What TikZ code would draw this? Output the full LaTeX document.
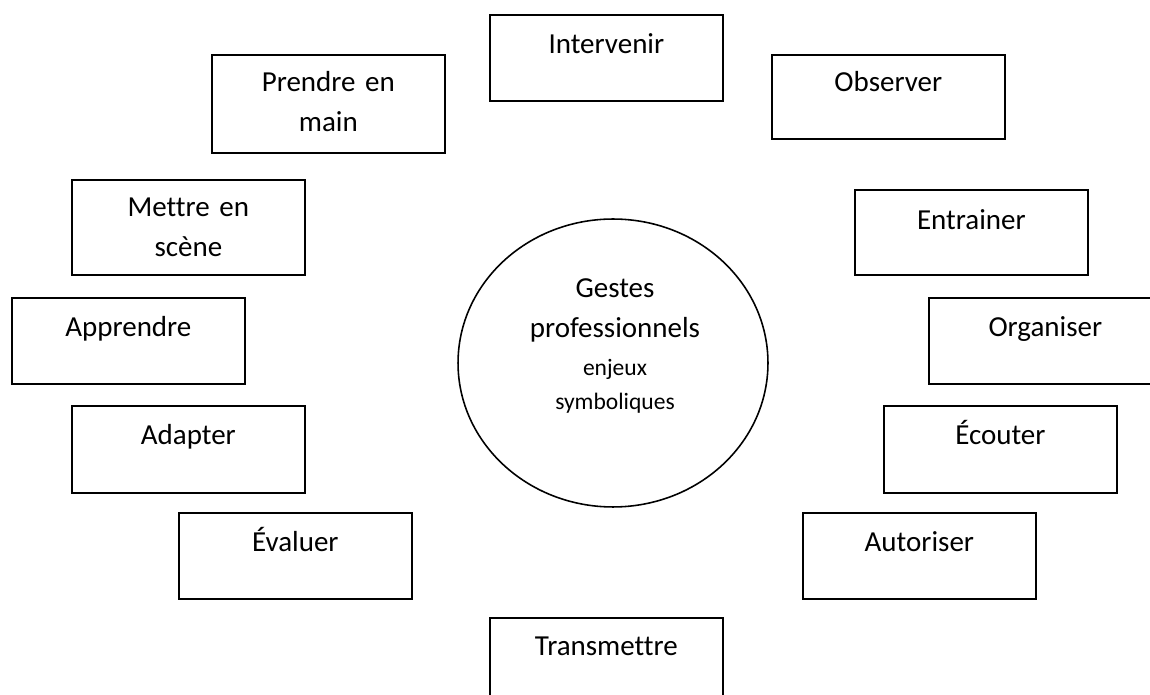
\documentclass[tikz,border=0pt]{standalone}
\usepackage{fontspec}
\setmainfont{Carlito}[Ligatures=NoCommon]
\usetikzlibrary{shapes.geometric}

\begin{document}
\begin{tikzpicture}[x=0.02cm,y=-0.02cm,
  action/.style={draw,line width=1pt,anchor=north west,inner sep=0pt,
    text width=4.66cm,align=center,text height=0.78cm,text depth=0.94cm,
    font=\fontsize{16.5}{22.8}\selectfont},
  action2/.style={action,text height=0.74cm,text depth=1.22cm}]

\useasboundingbox (0,0) rectangle (1150,695);

\node[ellipse,draw,line width=0.9pt,minimum width=6.2cm,minimum height=5.76cm] (gestes) at (613,363) {};
\node[anchor=base,align=center,font=\fontsize{16.5}{22.8}\selectfont] (gestestxt) at (615,410)
  {Gestes\\professionnels\\[-1.7pt]{\fontsize{13.4}{20}\selectfont enjeux}\\[-2.9pt]{\fontsize{13.4}{20}\selectfont symboliques}};

\node[action] (intervenir) at (489,14) {Intervenir};
\node[action,text height=0.74cm] (observer) at (771,54) {Observer};
\node[action2] (prendre) at (211,54) {Prendre en\\main};
\node[action2,text depth=1.16cm] (mettre) at (71,179) {Mettre en\\scène};
\node[action,text height=0.8cm,text depth=0.9cm] (entrainer) at (854,189) {Entrainer};
\node[action] (apprendre) at (11,297) {Apprendre};
\node[action] (organiser) at (928,297) {Organiser};
\node[action,text depth=0.96cm] (adapter) at (71,405) {Adapter};
\node[action,text depth=0.96cm] (ecouter) at (883,405) {Écouter};
\node[action] (evaluer) at (178,512) {Évaluer};
\node[action] (autoriser) at (802,512) {Autoriser};
\node[action,text height=0.76cm] (transmettre) at (489,617) {Transmettre};
\end{tikzpicture}
\end{document}
